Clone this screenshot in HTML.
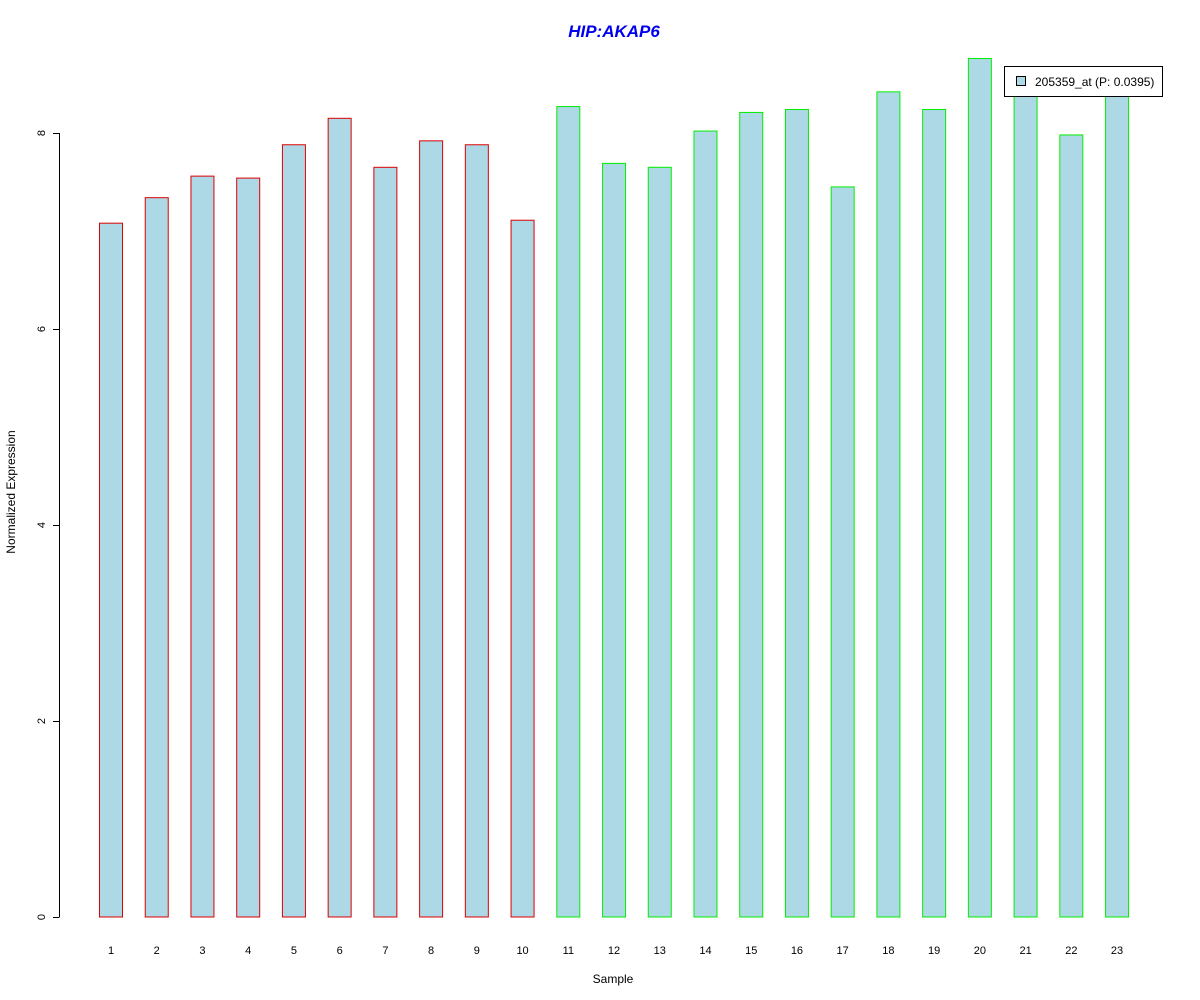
<!DOCTYPE html>
<html><head><meta charset="utf-8"><style>
body{margin:0;background:#fff;}
svg{display:block;font-family:"Liberation Sans",Arial,sans-serif;}
</style></head><body>
<svg id="chart" width="1200" height="1000">
<text x="614" y="37" text-anchor="middle" font-size="17" font-weight="bold" font-style="italic" fill="#0000ee">HIP:AKAP6</text>
<g id="yaxis"></g>
<g id="bars"></g>
<g id="xlabels"></g>
<text x="613" y="983" text-anchor="middle" font-size="12">Sample</text>
<text transform="translate(15,492) rotate(-90)" text-anchor="middle" font-size="12">Normalized Expression</text>
<g>
<rect x="1004.5" y="66.5" width="158" height="30" fill="#fff" stroke="#000"/>
<rect x="1016.5" y="76.5" width="9" height="9" fill="#add8e6" stroke="#000"/>
<text x="1035" y="86" font-size="12">205359_at (P: 0.0395)</text>
</g>
</svg>
<script>
const samples=["1","2","3","4","5","6","7","8","9","10","11","12","13","14","15","16","17","18","19","20","21","22","23"];
const values=[7.08,7.34,7.56,7.54,7.88,8.15,7.65,7.92,7.88,7.11,8.27,7.69,7.65,8.02,8.21,8.24,7.45,8.42,8.24,8.76,8.5,7.98,8.45];
const groups=[0,0,0,0,0,0,0,0,0,0,1,1,1,1,1,1,1,1,1,1,1,1,1];
const yTicks=[0,2,4,6,8];
const NS="http://www.w3.org/2000/svg";
const y=v=>917-v*98;
const x=i=>111+i*45.73;
const ya=document.getElementById('yaxis');
const ln=document.createElementNS(NS,'line');
ln.setAttribute('x1',59.5);ln.setAttribute('x2',59.5);ln.setAttribute('y1',y(0));ln.setAttribute('y2',y(8));ln.setAttribute('stroke','#000');


ya.appendChild(ln);
yTicks.forEach(t=>{
 const tk=document.createElementNS(NS,'line');
 tk.setAttribute('x1',53);tk.setAttribute('x2',59.5);tk.setAttribute('y1',y(t)+0.5);tk.setAttribute('y2',y(t)+0.5);tk.setAttribute('stroke','#000');
 
 
 ya.appendChild(tk);
 const tx=document.createElementNS(NS,'text');
 tx.setAttribute('transform',`translate(45,${y(t)}) rotate(-90)`);tx.setAttribute('text-anchor','middle');tx.setAttribute('font-size','11');tx.textContent=t;
 
 
 ya.appendChild(tx);
});
const bg=document.getElementById('bars'),xl=document.getElementById('xlabels');
values.forEach((v,i)=>{
 const r=document.createElementNS(NS,'rect');
 r.setAttribute('x',x(i)-11.5);r.setAttribute('y',y(v));r.setAttribute('width',23);r.setAttribute('height',y(0)-y(v));
 r.setAttribute('fill','#add8e6');r.setAttribute('stroke',groups[i]?'#00ee00':'#dd0000');
 
 
 bg.appendChild(r);
 const t=document.createElementNS(NS,'text');
 t.setAttribute('x',x(i));t.setAttribute('y',954);t.setAttribute('text-anchor','middle');t.setAttribute('font-size','11');t.textContent=samples[i];
 
 
 xl.appendChild(t);
});
</script>
</body></html>
